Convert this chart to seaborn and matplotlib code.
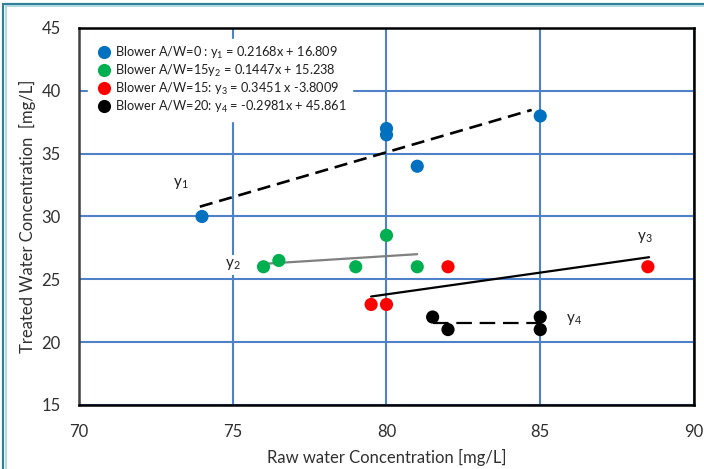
import matplotlib
matplotlib.use("Agg")
import matplotlib.pyplot as plt
import seaborn as sns
import pandas as pd
from matplotlib.patches import Rectangle

# ---- data ----
labels = [
    "Blower A/W=0 : y$_1$ = 0.2168x + 16.809",
    "Blower A/W=15y$_2$ = 0.1447x + 15.238",
    "Blower A/W=15: y$_3$ = 0.3451 x -3.8009",
    "Blower A/W=20: y$_4$ = -0.2981x + 45.861",
]
blue_x = [74, 80, 80, 81, 85]
blue_y = [30, 37, 36.5, 34, 38]
green_x = [76, 76.5, 79, 80, 81]
green_y = [26, 26.5, 26, 28.5, 26]
red_x = [79.5, 80, 82, 88.5]
red_y = [23, 23, 26, 26]
black_x = [81.5, 82, 85, 85]
black_y = [22, 21, 22, 21]

# trend line endpoints as drawn in the chart
y1_x = [73.93, 84.72]
y1_y = [30.78, 38.48]
y2_x = [76.0, 81.0]
y2_y = [26.23, 27.0]
y3_x = [79.5, 88.54]
y3_y = [23.63, 26.76]
y4_x = [81.5, 85.0]
y4_y = [21.5, 21.5]

line_names = ["y$_1$", "y$_2$", "y$_3$", "y$_4$"]
line_label_x = [73.3, 75.0, 88.4, 86.1]
line_label_y = [32.6, 26.15, 28.3, 21.8]

colors = ["#0070C0", "#00B050", "#FF0000", "#000000"]

# ---- build frame ----
rows = []
for lab, xs, ys in zip(labels, [blue_x, green_x, red_x, black_x],
                       [blue_y, green_y, red_y, black_y]):
    for x, y in zip(xs, ys):
        rows.append({"x": x, "y": y, "series": lab})
df = pd.DataFrame(rows)

sns.set_theme(style="white")
plt.rcParams["font.family"] = ["Lato", "DejaVu Sans"]
plt.rcParams["mathtext.fontset"] = "custom"
plt.rcParams["mathtext.rm"] = "Lato"
plt.rcParams["mathtext.it"] = "Lato:italic"

fig = plt.figure(figsize=(7.04, 4.69), dpi=100)
ax = fig.add_axes([0.1122, 0.1365, 0.8736, 0.8038])

grid_c = "#4F81C8"
ax.set_xlim(70, 90)
ax.set_ylim(15, 45)
ax.set_xticks([70, 75, 80, 85, 90])
ax.set_yticks([15, 20, 25, 30, 35, 40, 45])
ax.grid(True, color=grid_c, linewidth=1.5, zorder=0)
ax.set_axisbelow(True)

# trend lines
def tl(xs, ys, **kw):
    sns.lineplot(x=xs, y=ys, ax=ax, legend=False, zorder=2, **kw)

tl(y1_x, y1_y, color="black", linewidth=1.9, dashes=(5, 2.6))
tl(y2_x, y2_y, color="#808080", linewidth=1.6)
tl(y3_x, y3_y, color="black", linewidth=1.6)
tl(y4_x, y4_y, color="black", linewidth=1.6, dashes=(7, 3.5))

sns.scatterplot(data=df, x="x", y="y", hue="series", palette=colors,
                s=90, linewidth=0, ax=ax, zorder=3)

for nm, lx, ly in zip(line_names, line_label_x, line_label_y):
    ax.text(lx, ly, nm, fontsize=11, ha="center", va="center", zorder=4,
            color="#202020",
            bbox=dict(facecolor="white", edgecolor="none", pad=1.5))

leg = ax.legend(loc="upper left", bbox_to_anchor=(0.005, 0.988),
                frameon=True, fontsize=9.2, handletextpad=0.0,
                labelspacing=0.15, borderpad=0.45, markerscale=1.0,
                handlelength=1.6)
leg.get_frame().set_facecolor("white")
leg.get_frame().set_edgecolor("white")
leg.get_frame().set_alpha(1.0)
leg.set_zorder(5)
for t in leg.get_texts():
    t.set_color("#202020")

for s in ax.spines.values():
    s.set_color("black")
    s.set_linewidth(1.8)
ax.spines["left"].set_color("#404040")

ax.tick_params(axis="both", which="both", direction="out", length=5,
               width=0.8, color="#808080", labelsize=12, labelcolor="#303030")
ax.tick_params(axis="y", pad=8)
ax.tick_params(axis="x", pad=9)
ax.set_xlabel("Raw water Concentration [mg/L]", fontsize=12, color="#303030",
              labelpad=6)
ax.set_ylabel("Treated Water Concentration  [mg/L]", fontsize=12,
              color="#303030", labelpad=4)

# outer chart frame (extends beyond right/bottom edges)
fig.add_artist(Rectangle((3.0 / 704, -0.5), 2.0, 1.5 - 4.0 / 469,
                         transform=fig.transFigure, fill=False,
                         edgecolor="#2F8197", linewidth=1.6))
fig.add_artist(Rectangle((5.5 / 704, -0.5), 2.0, 1.5 - 6.5 / 469,
                         transform=fig.transFigure, fill=False,
                         edgecolor="#A8D3DD", linewidth=1.2))

fig.savefig("out.png", dpi=100)
